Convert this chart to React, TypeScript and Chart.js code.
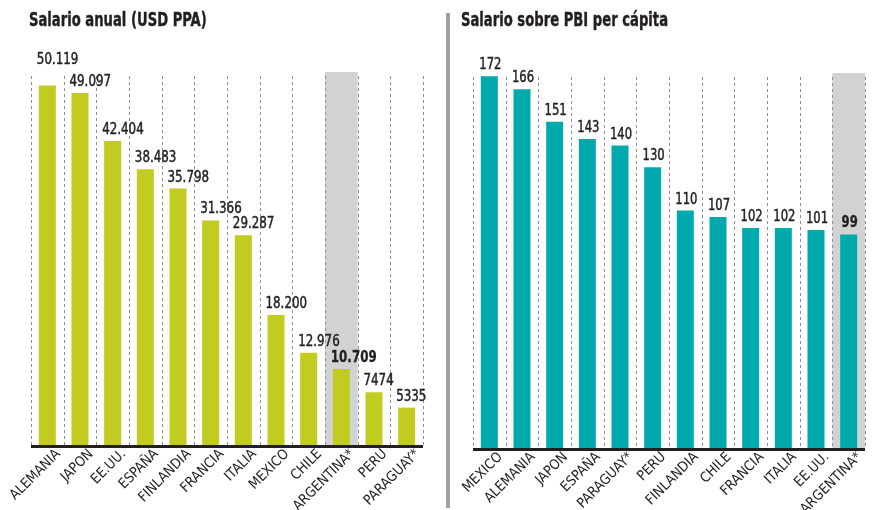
import React, { useEffect, useRef } from "react";
import { Chart, registerables } from "chart.js";

Chart.register(...registerables);

const FONT = "'Liberation Sans Narrow', 'DejaVu Sans Condensed', 'Roboto Condensed', Roboto, sans-serif";
const TEXT = "#231f20";

// Left chart: Salario anual (USD PPA)
const salaryCategories = ["ALEMANIA", "JAPON", "EE.UU.", "ESPAÑA", "FINLANDIA", "FRANCIA", "ITALIA", "MEXICO", "CHILE", "ARGENTINA*", "PERU", "PARAGUAY*"];
const salaryValues = [50119, 49097, 42404, 38483, 35798, 31366, 29287, 18200, 12976, 10709, 7474, 5335];
const salaryLabels = ["50.119", "49.097", "42.404", "38.483", "35.798", "31.366", "29.287", "18.200", "12.976", "10.709", "7474", "5335"];

// Right chart: Salario sobre PBI per cápita
const ratioCategories = ["MEXICO", "ALEMANIA", "JAPON", "ESPAÑA", "PARAGUAY*", "PERU", "FINLANDIA", "CHILE", "FRANCIA", "ITALIA", "EE.UU.", "ARGENTINA*"];
const ratioValues = [172, 166, 151, 143, 140, 130, 110, 107, 102, 102, 101, 99];
const ratioLabels = ["172", "166", "151", "143", "140", "130", "110", "107", "102", "102", "101", "99"];

const HIGHLIGHT = "ARGENTINA*";

type Cfg = {
  title: string;
  titleX: number;
  categories: string[];
  values: number[];
  labels: string[];
  color: string;
  yMax: number;
  padding: { left: number; right: number; top: number; bottom: number };
  axisHeight: number;
  labelAlign: "left" | "center";
  width: number;
  left: number;
};

function squeezedText(ctx: any, text: string, x: number, y: number, sx: number, stroke: number) {
  ctx.save();
  ctx.translate(x, y);
  ctx.scale(sx, 1);
  ctx.fillText(text, 0, 0);
  if (stroke > 0) {
    ctx.lineWidth = stroke;
    ctx.strokeStyle = ctx.fillStyle;
    ctx.strokeText(text, 0, 0);
  }
  ctx.restore();
}

function BarPanel(cfg: Cfg) {
  const ref = useRef<HTMLCanvasElement | null>(null);
  useEffect(() => {
    if (!ref.current) return;
    const n = cfg.categories.length;
    const decor = {
      id: "decor",
      beforeDatasetsDraw(chart: any) {
        const ctx = chart.ctx;
        const x = chart.scales.x;
        const area = chart.chartArea;
        const w = x.width / n;
        const hi = cfg.categories.indexOf(HIGHLIGHT);
        ctx.save();
        if (hi >= 0) {
          const c = x.getPixelForValue(hi);
          ctx.fillStyle = "#d1d2d4";
          ctx.fillRect(c - w / 2, area.top, w, area.bottom - area.top);
        }
        ctx.strokeStyle = "#8f8f8f";
        ctx.lineWidth = 1;
        ctx.setLineDash([3, 3]);
        for (let i = 0; i <= n; i++) {
          const gx = Math.round(x.getPixelForValue(Math.min(i, n - 1)) + (i === n ? w / 2 : -w / 2)) + 0.5;
          ctx.beginPath();
          ctx.moveTo(gx, area.top + 4);
          ctx.lineTo(gx, area.bottom);
          ctx.stroke();
        }
        ctx.restore();
      },
      afterDatasetsDraw(chart: any) {
        const ctx = chart.ctx;
        const area = chart.chartArea;
        ctx.save();
        // baseline
        ctx.strokeStyle = "#231f20";
        ctx.lineWidth = 3;
        ctx.beginPath();
        ctx.moveTo(area.left, area.bottom + 0.5);
        ctx.lineTo(area.right, area.bottom + 0.5);
        ctx.stroke();
        // value labels
        const meta = chart.getDatasetMeta(0);
        ctx.fillStyle = TEXT;
        ctx.textBaseline = "alphabetic";
        const sx = cfg.labelAlign === "left" ? 0.88 : 0.86;
        const boxes = meta.data.map((el: any, i: number) => {
          const bold = cfg.categories[i] === HIGHLIGHT;
          ctx.font = `${bold ? "bold " : ""}15px ${FONT}`;
          const w = ctx.measureText(cfg.labels[i]).width * sx;
          const x0 = cfg.labelAlign === "left" ? el.x - el.width / 2 - 2 : el.x + 1 - w / 2;
          return { x0, x1: x0 + w, y: el.y - 7, bold };
        });
        // lift a label above its right neighbour when they would collide
        for (let i = boxes.length - 2; i >= 0; i--) {
          const a = boxes[i];
          const b = boxes[i + 1];
          if (a.x1 > b.x0 - 2 && a.y > b.y - 12) {
            a.y = Math.min(a.y, b.y - 22);
          }
        }
        boxes.forEach((bx: any, i: number) => {
          ctx.font = `${bx.bold ? "bold " : ""}15px ${FONT}`;
          ctx.textAlign = "left";
          squeezedText(ctx, cfg.labels[i], bx.x0, bx.y, sx, bx.bold ? 0.3 : 0.45);
        });
        // title
        ctx.font = `bold 19px ${FONT}`;
        ctx.textAlign = "left";
        squeezedText(ctx, cfg.title, cfg.titleX, 26, 0.77, 0.4);
        ctx.restore();
      },
    };
    const chart = new Chart(ref.current, {
      type: "bar",
      data: {
        labels: cfg.categories,
        datasets: [
          {
            data: cfg.values,
            backgroundColor: cfg.color,
            barPercentage: 0.52,
            categoryPercentage: 1,
          },
        ],
      },
      options: {
        animation: false,
        responsive: false,
        layout: { padding: cfg.padding },
        plugins: { legend: { display: false }, tooltip: { enabled: false }, title: { display: false } },
        scales: {
          x: {
            grid: { display: false, drawTicks: false },
            border: { display: false },
            afterFit: (s: any) => {
              s.height = cfg.axisHeight;
            },
            ticks: {
              autoSkip: false,
              maxRotation: 45,
              minRotation: 45,
              labelOffset: 11,
              padding: 0,
              color: TEXT,
              font: { family: FONT, size: 14 },
            },
          },
          y: {
            display: false,
            min: 0,
            max: cfg.yMax,
          },
        },
      },
      plugins: [decor],
    });
    return () => chart.destroy();
  }, []);
  return (
    <canvas
      ref={ref}
      width={cfg.width}
      height={510}
      style={{ position: "absolute", left: cfg.left, top: 0, width: cfg.width, height: 510 }}
    />
  );
}

export default function App() {
  return (
    <div style={{ position: "absolute", left: 0, top: 0, width: 873, height: 510, background: "#fff", overflow: "hidden" }}>
      <BarPanel
        title="Salario anual (USD PPA)"
        titleX={29}
        categories={salaryCategories}
        values={salaryValues}
        labels={salaryLabels}
        color="#c2cb20"
        yMax={52000}
        padding={{ left: 31, right: 17, top: 72, bottom: 0 }}
        axisHeight={64}
        labelAlign="left"
        width={440}
        left={0}
      />
      <div style={{ position: "absolute", left: 446, top: 13, width: 4, height: 495, background: "#a0a0a0" }} />
      <BarPanel
        title="Salario sobre PBI per cápita"
        titleX={21}
        categories={ratioCategories}
        values={ratioValues}
        labels={ratioLabels}
        color="#00a9ac"
        yMax={173.5}
        padding={{ left: 33, right: 8, top: 73, bottom: 0 }}
        axisHeight={61}
        labelAlign="center"
        width={433}
        left={440}
      />
    </div>
  );
}
